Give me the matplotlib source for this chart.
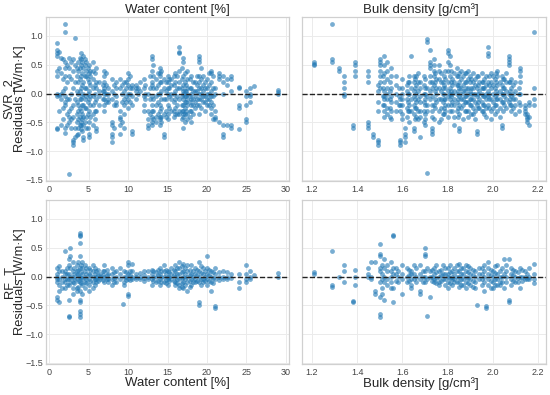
import matplotlib
matplotlib.use("Agg")
import matplotlib.pyplot as plt

plt.rcParams['font.family'] = ['Liberation Sans', 'DejaVu Sans']

# ---------------- data (columns: x value, residuals at that x) ----------------
svr_wc = [
    (1.0, [0.88, 0.75, 0.70, 0.65, 0.40, 0.30, 0.00, -0.05, -0.60, -0.62]),
    (1.2, [0.72, 0.45, -0.02, -0.30]),
    (1.5, [0.62, 0.35, 0.00, -0.10, -0.55]),
    (1.8, [0.60, 0.25, 0.05, -0.25, -0.45]),
    (2.0, [1.20, 1.07, 0.55, 0.45, 0.30, 0.10, -0.05, -0.15, -0.20, -0.60, -0.68]),
    (2.2, [0.50, 0.20, -0.10, -0.35, -0.55]),
    (2.5, [0.62, 0.45, 0.30, -0.10, -0.30, -0.40, -0.50, -1.40]),
    (2.8, [0.55, 0.25, 0.00, -0.25, -0.45, -0.60]),
    (3.0, [0.60, 0.40, 0.10, -0.20, -0.40, -0.80, -0.85, -0.90]),
    (3.3, [0.97, 0.50, 0.20, -0.10, -0.60, -0.75]),
    (3.5, [0.45, 0.30, 0.05, -0.15, -0.35, -0.50, -0.72]),
    (3.7, [0.55, 0.40, 0.20, 0.00, -0.20, -0.30, -0.45, -0.60, -0.70]),
    (3.9, [0.62, 0.45, 0.25, 0.05, -0.10, -0.25, -0.40, -0.55]),
    (4.0, [0.70, 0.60, 0.50, 0.30, 0.10, -0.10, -0.30, -0.50, -0.55, -0.62]),
    (4.1, [0.55, 0.35, 0.15, -0.05, -0.20, -0.35, -0.45, -0.65]),
    (4.3, [0.65, 0.45, 0.20, 0.00, -0.20, -0.40, -0.55, -0.75, -0.80]),
    (4.5, [0.60, 0.50, 0.30, 0.10, -0.10, -0.25, -0.50]),
    (4.7, [0.55, 0.40, 0.30, 0.10, -0.05, -0.25, -0.40, -0.60]),
    (4.9, [0.45, 0.25, 0.00, -0.15, -0.35, -0.60]),
    (5.0, [0.50, 0.35, 0.20, 0.05, -0.10, -0.30, -0.50, -0.70, -0.75]),
    (5.2, [0.40, 0.30, 0.15, -0.05, -0.20, -0.40]),
    (5.5, [0.55, 0.40, 0.25, 0.10, -0.05, -0.20, -0.35, -0.55]),
    (5.8, [0.35, 0.15, 0.00, -0.15, -0.30, -0.45]),
    (6.0, [0.45, 0.20, 0.10, -0.10, -0.30, -0.60, -0.65]),
    (6.3, [0.20, 0.05, -0.05, -0.20]),
    (6.8, [0.15, 0.05, -0.10]),
    (7.0, [0.40, 0.30, 0.20, 0.10, 0.05, 0.00, -0.10, -0.20, -0.30]),
    (7.2, [0.35, 0.15, 0.00, -0.15]),
    (7.5, [0.10, 0.00, -0.10, -0.15]),
    (8.0, [0.25, 0.05, -0.10, -0.50, -0.55, -0.70, -0.75, -0.85]),
    (8.2, [0.15, 0.00, -0.20, -0.60]),
    (8.5, [0.20, 0.10, -0.05, -0.15, -0.20]),
    (9.0, [0.25, 0.10, -0.30, -0.40, -0.45, -0.55, -0.70]),
    (9.2, [0.15, 0.00, -0.15, -0.50]),
    (9.5, [0.20, 0.05, -0.10, -0.20, -0.35, -0.60]),
    (9.8, [0.20, 0.10, -0.05, -0.15]),
    (10.0, [0.35, 0.25, 0.15, 0.00, -0.10, -0.25]),
    (10.2, [0.30, 0.10, 0.00, -0.15]),
    (10.5, [0.15, 0.10, -0.05, -0.20, -0.65, -0.70]),
    (11.0, [0.15, 0.10, 0.05, -0.10]),
    (11.2, [0.10, 0.00]),
    (11.5, [0.20, 0.05]),
    (12.0, [0.25, 0.10, -0.05, -0.20, -0.30]),
    (12.2, [0.15, 0.00, -0.10]),
    (12.5, [0.00, -0.30, -0.45, -0.55, -0.60]),
    (12.8, [0.30, 0.10, -0.10, -0.35]),
    (13.0, [0.65, 0.60, 0.40, 0.20, 0.15, -0.05, -0.20, -0.30, -0.40, -0.50, -0.55]),
    (13.2, [0.50, 0.30, 0.10, -0.10, -0.30, -0.45]),
    (13.5, [0.25, 0.10, -0.05, -0.20, -0.40, -0.50]),
    (13.8, [0.35, 0.15, 0.00, -0.15, -0.35]),
    (14.0, [0.45, 0.35, 0.30, 0.20, 0.00, -0.20, -0.30, -0.40, -0.45, -0.55]),
    (14.2, [0.40, 0.20, 0.05, -0.10, -0.25, -0.40, -0.50]),
    (14.5, [0.25, 0.10, -0.10, -0.35, -0.70, -0.75]),
    (14.8, [0.20, 0.05, -0.10, -0.30, -0.40]),
    (15.0, [0.30, 0.20, 0.10, 0.00, -0.20, -0.35, -0.45]),
    (15.2, [0.25, 0.10, -0.05, -0.25]),
    (15.5, [0.25, 0.15, 0.00, -0.10, -0.30]),
    (15.8, [0.30, 0.15, 0.00, -0.15, -0.30, -0.40]),
    (16.0, [0.35, 0.20, 0.05, -0.10, -0.25, -0.35]),
    (16.2, [0.30, 0.10, -0.05, -0.20, -0.35]),
    (16.5, [0.80, 0.72, 0.70, 0.40, 0.20, 0.10, -0.10, -0.30, -0.35]),
    (16.8, [0.45, 0.25, 0.10, -0.05, -0.20, -0.30, -0.45]),
    (17.0, [0.62, 0.55, 0.30, 0.15, 0.05, 0.00, -0.10, -0.20, -0.30, -0.35, -0.40, -0.60]),
    (17.2, [0.35, 0.20, 0.05, -0.05, -0.15, -0.25, -0.35, -0.50]),
    (17.4, [0.15, 0.05, -0.05, -0.15, -0.30]),
    (17.5, [0.40, 0.25, 0.10, 0.00, -0.10, -0.20, -0.35, -0.45]),
    (17.8, [0.25, 0.10, -0.05, -0.15, -0.30, -0.40]),
    (18.0, [0.30, 0.10, 0.00, -0.10, -0.20, -0.30, -0.50]),
    (18.2, [0.20, 0.05, -0.10, -0.20, -0.35]),
    (18.5, [0.20, 0.05, -0.05, -0.15, -0.25]),
    (18.8, [0.30, 0.15, 0.05, -0.10, -0.20]),
    (19.0, [0.65, 0.60, 0.55, 0.30, 0.20, 0.10, 0.00, -0.10, -0.20, -0.35]),
    (19.2, [0.45, 0.25, 0.10, 0.00, -0.10, -0.25]),
    (19.5, [0.30, 0.15, 0.05, -0.05, -0.15]),
    (19.8, [0.20, 0.10, -0.05, -0.15, -0.30]),
    (20.0, [0.25, 0.10, 0.00, -0.10, -0.20]),
    (20.2, [0.35, 0.15, 0.00, -0.10, -0.20]),
    (20.5, [0.40, 0.35, 0.20, 0.05, -0.05, -0.15, -0.25, -0.35]),
    (20.8, [0.30, 0.10, -0.05, -0.20, -0.45]),
    (21.0, [0.10, 0.00, -0.30, -0.40, -0.45]),
    (21.5, [0.35, 0.30, 0.25, -0.50]),
    (22.0, [0.30, 0.20, 0.00, -0.55, -0.70, -0.75]),
    (22.5, [0.25, 0.15, -0.55]),
    (23.0, [0.30, 0.25, 0.05, -0.55, -0.60]),
    (24.0, [0.10, 0.12, -0.20, -0.25, -0.62]),
    (25.0, [0.05, -0.05, -0.20, -0.45, -0.50]),
    (25.5, [0.10, 0.00, -0.05, -0.15]),
    (26.0, [0.13]),
    (29.0, [0.07, 0.00, 0.02]),
]

svr_bd = [
    (1.21, [0.55, 0.50, 0.52]),
    (1.29, [1.20, 0.60, 0.55]),
    (1.32, [0.45, 0.40]),
    (1.34, [0.30, 0.20, 0.10, 0.00, -0.05]),
    (1.38, [-0.55, -0.60]),
    (1.39, [0.55, 0.50, 0.40, 0.30]),
    (1.45, [0.40, 0.30, 0.20, -0.50, -0.55, -0.60]),
    (1.47, [-0.70, -0.75]),
    (1.49, [0.15, 0.05, -0.15, -0.30, -0.80, -0.85, -0.90]),
    (1.50, [0.60, 0.55, 0.50, 0.40, 0.30, 0.20, 0.10]),
    (1.515, [0.30, 0.10, -0.05, -0.20]),
    (1.52, [0.65, 0.50, 0.35, 0.20, 0.05, -0.05, -0.10, -0.20, -0.30, -0.40]),
    (1.53, [0.55, 0.40, 0.25, 0.10, 0.00, -0.10, -0.25, -0.35]),
    (1.545, [0.20, 0.05, -0.10, -0.25, -0.40]),
    (1.55, [0.45, 0.30, 0.10, -0.05, -0.15, -0.30, -0.45]),
    (1.57, [0.30, 0.15, 0.00, -0.15, -0.30]),
    (1.585, [0.10, -0.05, -0.20]),
    (1.59, [-0.85, -0.80, -0.90, -0.30, -0.20, -0.10]),
    (1.60, [0.25, 0.10, 0.00, -0.10, -0.20, -0.35, -0.45]),
    (1.61, [-0.70, -0.75, -0.85, -0.60]),
    (1.62, [0.15, 0.05, -0.10, -0.25, -0.40]),
    (1.625, [0.20, 0.00, -0.15, -0.30]),
    (1.63, [0.30, 0.20, 0.00, -0.20, -0.30, -0.50]),
    (1.64, [0.65, 0.10, -0.10, -0.30]),
    (1.65, [0.30, 0.20, 0.05, -0.05, -0.20, -0.35, -0.60, -0.65]),
    (1.655, [0.25, 0.10, -0.10, -0.25, -0.45]),
    (1.66, [0.30, 0.15, 0.00, -0.15, -0.25, -0.40]),
    (1.67, [0.35, 0.20, 0.05, -0.10, -0.30, -0.45]),
    (1.68, [0.20, 0.10, -0.05, -0.15, -0.30, -0.40, -0.75]),
    (1.695, [0.30, 0.15, 0.00, -0.15, -0.30, -0.50]),
    (1.70, [0.25, 0.10, 0.00, -0.10, -0.20, -0.35, -0.45, -0.55]),
    (1.71, [0.95, 0.90, 0.10, -0.05, -0.20, -0.30, -1.38]),
    (1.72, [0.75, 0.55, 0.50, 0.45, 0.30, 0.20, 0.05, -0.10]),
    (1.73, [0.20, 0.10, -0.05, -0.20, -0.30, -0.40, -0.60, -0.65, -0.70]),
    (1.74, [0.60, 0.50, 0.40, 0.30, 0.15, -0.20, -0.45]),
    (1.745, [0.35, 0.20, 0.05, -0.10, -0.25]),
    (1.75, [0.25, 0.10, 0.00, -0.15]),
    (1.76, [0.50, 0.40, 0.25, 0.10, -0.10, -0.30, -0.50]),
    (1.77, [0.35, 0.20, 0.05, -0.10, -0.25, -0.45]),
    (1.78, [0.20, 0.10, 0.00, -0.15, -0.35]),
    (1.785, [0.30, 0.15, 0.00, -0.10, -0.25, -0.35]),
    (1.79, [0.40, 0.25, 0.10, -0.10, -0.20, -0.30]),
    (1.80, [0.75, 0.70, 0.55, 0.40, 0.20, 0.05, -0.05, -0.20, -0.40]),
    (1.81, [0.65, 0.50, 0.30, 0.10, 0.00, -0.10, -0.30]),
    (1.815, [0.40, 0.20, 0.05, -0.05, -0.20]),
    (1.82, [0.25, 0.15, 0.00, -0.15, -0.30]),
    (1.83, [0.35, 0.20, 0.05, -0.10, -0.20, -0.40, -0.55]),
    (1.84, [0.45, 0.30, 0.15, 0.00, -0.15, -0.30]),
    (1.845, [0.30, 0.15, 0.05, -0.10, -0.25, -0.40]),
    (1.85, [0.35, 0.20, 0.10, -0.05, -0.20, -0.35, -0.60, -0.65]),
    (1.86, [0.40, 0.25, 0.10, 0.00, -0.10, -0.25]),
    (1.87, [0.30, 0.15, 0.05, -0.10, -0.20, -0.45]),
    (1.875, [0.35, 0.20, 0.05, -0.05, -0.15, -0.30]),
    (1.88, [0.35, 0.20, 0.10, -0.05, -0.15, -0.30]),
    (1.89, [0.40, 0.25, 0.10, 0.00, -0.15, -0.30, -0.40]),
    (1.90, [0.30, 0.20, 0.05, -0.10, -0.20]),
    (1.905, [0.25, 0.10, 0.00, -0.10, -0.20, -0.35]),
    (1.91, [0.35, 0.20, 0.10, 0.00, -0.10, -0.25, -0.35]),
    (1.92, [0.25, 0.15, 0.00, -0.15, -0.30, -0.45]),
    (1.93, [0.30, 0.10, -0.05, -0.20, -0.65, -0.70]),
    (1.935, [0.30, 0.15, 0.00, -0.15, -0.25]),
    (1.94, [0.20, 0.05, -0.10, -0.25]),
    (1.95, [0.35, 0.20, 0.10, 0.00, -0.15, -0.30]),
    (1.955, [0.20, 0.10, -0.05, -0.20, -0.30]),
    (1.96, [0.25, 0.10, -0.05, -0.20, -0.35]),
    (1.97, [0.30, 0.15, 0.00, -0.10, -0.25, -0.40]),
    (1.98, [0.80, 0.70, 0.65, 0.20, 0.05, -0.05, -0.20]),
    (1.985, [0.30, 0.15, 0.00, -0.10, -0.25]),
    (1.99, [0.35, 0.20, 0.10, -0.10, -0.30, -0.45]),
    (2.00, [0.30, 0.15, 0.00, -0.15, -0.25]),
    (2.01, [0.25, 0.10, -0.05, -0.20, -0.35]),
    (2.015, [0.35, 0.20, 0.05, -0.10, -0.20]),
    (2.02, [0.40, 0.30, 0.15, 0.00, -0.10, -0.30]),
    (2.03, [0.20, 0.05, -0.10, -0.25, -0.40]),
    (2.04, [0.30, 0.15, 0.00, -0.15, -0.60, -0.55]),
    (2.045, [0.25, 0.10, 0.00, -0.15, -0.30]),
    (2.05, [0.25, 0.10, -0.05, -0.20]),
    (2.06, [0.35, 0.20, 0.05, -0.10, -0.25]),
    (2.07, [0.65, 0.60, 0.55, 0.50, 0.20, 0.00, -0.15]),
    (2.075, [0.20, 0.05, -0.10, -0.20]),
    (2.08, [0.25, 0.10, -0.05, -0.20, -0.30]),
    (2.09, [0.15, 0.00, -0.10, -0.25]),
    (2.10, [0.20, 0.05, -0.10, -0.20, -0.35]),
    (2.115, [0.10, 0.00, -0.15, -0.30]),
    (2.12, [0.45, 0.40, 0.30, 0.20, 0.00, -0.20]),
    (2.14, [-0.20, -0.25, -0.30, -0.35]),
    (2.15, [-0.35, -0.40, -0.45, -0.50]),
    (2.16, [-0.15, -0.20, -0.40, -0.55]),
    (2.18, [1.07, 0.10, -0.10, -0.20]),
]

rf_wc = [
    (1.0, [0.15, 0.05, 0.00, -0.05, -0.10, -0.35, -0.40]),
    (1.3, [0.18, 0.10, -0.05, -0.15, -0.25, -0.45]),
    (1.6, [0.10, 0.00, -0.10, -0.20]),
    (2.0, [0.45, 0.10, 0.05, -0.05, -0.10, -0.20]),
    (2.2, [0.15, 0.05, -0.05, -0.15]),
    (2.5, [0.30, 0.20, 0.05, -0.05, -0.15, -0.40, -0.70, -0.68]),
    (2.7, [0.50, 0.35, 0.15, 0.00, -0.10]),
    (3.0, [0.25, 0.10, 0.00, -0.10, -0.20, -0.30]),
    (3.2, [0.15, 0.05, -0.05, -0.12]),
    (3.5, [0.20, 0.10, 0.05, -0.05, -0.20, -0.25]),
    (3.7, [0.25, 0.12, 0.02, -0.08, -0.18]),
    (3.9, [0.75, 0.72, 0.70, 0.58, 0.35, 0.15, 0.00, -0.10, -0.25, -0.40, -0.45, -0.60, -0.65, -0.70]),
    (4.0, [0.20, 0.08, -0.02, -0.12]),
    (4.2, [0.25, 0.15, 0.05, -0.05, -0.15, -0.30]),
    (4.5, [0.20, 0.10, 0.00, -0.10, -0.20]),
    (4.7, [0.15, 0.05, -0.05, -0.12]),
    (5.0, [0.15, 0.05, -0.05, -0.15, -0.25]),
    (5.2, [0.12, 0.02, -0.08]),
    (5.5, [0.20, 0.10, 0.00, -0.10, -0.20]),
    (5.8, [0.15, 0.05, -0.05, -0.15]),
    (6.0, [0.10, 0.00, -0.05, -0.10]),
    (6.2, [0.12, 0.03, -0.08]),
    (6.5, [0.05, 0.00, -0.05]),
    (6.8, [0.10, 0.02, -0.06]),
    (7.0, [0.20, 0.10, 0.00, -0.10]),
    (7.3, [0.12, 0.02, -0.05]),
    (7.5, [0.05, -0.05, -0.10]),
    (8.0, [0.15, 0.05, -0.05, -0.15]),
    (8.2, [0.08, -0.02, -0.10]),
    (8.5, [0.10, 0.00, -0.10]),
    (9.0, [0.15, 0.05, -0.05]),
    (9.4, [-0.48]),
    (9.5, [0.10, 0.00, -0.10, -0.15]),
    (9.7, [0.08, 0.00, -0.06]),
    (10.0, [0.25, 0.20, 0.05, -0.05, -0.30, -0.33]),
    (10.2, [0.10, 0.02, -0.06]),
    (10.5, [0.22, 0.10, 0.00, -0.05]),
    (11.0, [0.05, 0.00, -0.05]),
    (11.5, [0.06, 0.00, -0.04]),
    (12.0, [0.10, 0.02, -0.02, -0.08]),
    (12.5, [0.10, 0.00, -0.05]),
    (13.0, [0.12, 0.05, -0.05, -0.15]),
    (13.2, [0.10, 0.00, -0.08]),
    (13.5, [0.08, 0.00, -0.10]),
    (13.8, [0.12, 0.03, -0.07]),
    (14.0, [0.15, 0.05, -0.05, -0.15]),
    (14.2, [0.10, 0.00, -0.10]),
    (14.5, [0.20, 0.10, 0.00, -0.10]),
    (14.8, [0.12, 0.04, -0.06, -0.12]),
    (15.0, [0.10, 0.00, -0.05, -0.15]),
    (15.2, [0.08, 0.00, -0.08]),
    (15.5, [0.15, 0.05, -0.05]),
    (15.8, [0.12, 0.02, -0.08]),
    (16.0, [0.20, 0.10, 0.00, -0.10, -0.15]),
    (16.2, [0.15, 0.05, -0.05, -0.12]),
    (16.5, [0.25, 0.15, 0.05, -0.05, -0.15, -0.20]),
    (16.8, [0.18, 0.08, -0.02, -0.12, -0.18]),
    (17.0, [0.22, 0.10, 0.00, -0.10, -0.20]),
    (17.2, [0.15, 0.05, -0.05, -0.15]),
    (17.5, [0.20, 0.10, 0.00, -0.10, -0.25]),
    (17.8, [0.12, 0.02, -0.08, -0.18]),
    (18.0, [0.20, 0.05, -0.05, -0.15]),
    (18.2, [0.10, 0.00, -0.10]),
    (18.5, [0.15, 0.05, -0.05, -0.10]),
    (18.8, [0.12, 0.02, -0.08]),
    (19.0, [0.25, 0.10, 0.00, -0.10, -0.45, -0.50]),
    (19.2, [0.18, 0.06, -0.04, -0.14]),
    (19.5, [0.15, 0.05, -0.05, -0.10]),
    (19.8, [0.10, 0.00, -0.08]),
    (20.0, [0.35, 0.15, 0.05, -0.05, -0.15]),
    (20.2, [0.12, 0.02, -0.08]),
    (20.5, [0.10, 0.00, -0.10, -0.25]),
    (20.8, [0.08, -0.02, -0.12]),
    (21.0, [0.15, 0.05, -0.05, -0.52, -0.55]),
    (21.5, [0.08, 0.00, -0.06]),
    (22.0, [0.10, 0.00, -0.05]),
    (22.5, [0.08, 0.00, -0.05]),
    (23.0, [0.05, -0.02]),
    (24.0, [0.05, -0.10, -0.20]),
    (25.0, [0.20, 0.05, -0.05, -0.10]),
    (25.5, [0.10, 0.00, -0.05]),
    (26.0, [0.02]),
    (29.0, [0.07, 0.00]),
]

rf_bd = [
    (1.21, [0.08, 0.05]),
    (1.29, [0.45, -0.15, -0.18]),
    (1.32, [0.00]),
    (1.34, [0.20, 0.10, -0.10]),
    (1.38, [-0.42, -0.45]),
    (1.39, [0.12, 0.00, -0.15]),
    (1.45, [0.15, 0.05, 0.00]),
    (1.46, [0.25, 0.00, -0.05]),
    (1.48, [0.25, -0.25, -0.30]),
    (1.50, [0.57, 0.40, 0.35, 0.15, 0.10, -0.10, -0.35, -0.65, -0.70]),
    (1.51, [0.20, 0.05, -0.05, -0.20, -0.30]),
    (1.52, [0.30, 0.15, 0.00, -0.10, -0.40]),
    (1.53, [0.20, 0.10, -0.05, -0.15]),
    (1.55, [0.25, 0.10, 0.00, -0.10, -0.20]),
    (1.56, [0.72, 0.70, 0.15, 0.05, -0.20, -0.45]),
    (1.57, [0.15, 0.05, -0.08]),
    (1.58, [0.10, 0.00, -0.10]),
    (1.60, [0.20, 0.05, -0.05, -0.30]),
    (1.62, [0.15, 0.00, -0.10]),
    (1.63, [0.12, 0.02, -0.08]),
    (1.64, [0.10, 0.05, -0.05, -0.15, -0.20]),
    (1.65, [0.20, 0.05, -0.05]),
    (1.66, [0.15, 0.00, -0.10]),
    (1.68, [0.20, 0.05, -0.05, -0.25, -0.30]),
    (1.69, [0.10, 0.00, -0.10]),
    (1.70, [0.50, 0.40, 0.35, 0.10, 0.00, -0.10]),
    (1.71, [-0.68, 0.15, -0.05]),
    (1.72, [0.10, 0.00, -0.35]),
    (1.73, [0.12, 0.00, -0.08]),
    (1.74, [0.15, 0.05, -0.05, -0.10]),
    (1.75, [0.20, 0.08, -0.02, -0.12]),
    (1.76, [0.10, 0.00, -0.10, -0.15]),
    (1.77, [0.12, 0.02, -0.08]),
    (1.78, [0.20, 0.05, -0.05]),
    (1.79, [0.15, 0.05, -0.05, -0.15]),
    (1.80, [0.15, 0.05, 0.00, -0.10, -0.20]),
    (1.81, [0.20, 0.08, -0.02, -0.12]),
    (1.82, [0.10, 0.00, -0.05, -0.15]),
    (1.83, [0.15, 0.05, -0.05, -0.10]),
    (1.84, [0.20, 0.10, 0.00, -0.10]),
    (1.85, [0.22, 0.10, 0.00, -0.10, -0.18]),
    (1.86, [0.15, 0.05, -0.05, -0.15]),
    (1.87, [0.15, 0.05, -0.05, -0.15]),
    (1.88, [0.20, 0.10, 0.00, -0.10, -0.20]),
    (1.89, [0.18, 0.08, -0.02, -0.12]),
    (1.90, [0.15, 0.05, -0.05, -0.15]),
    (1.91, [0.12, 0.02, -0.08, -0.18]),
    (1.92, [0.10, 0.00, -0.10, -0.20]),
    (1.93, [-0.50]),
    (1.94, [0.15, 0.05, -0.05]),
    (1.95, [0.15, 0.05, -0.05, -0.15]),
    (1.96, [0.20, 0.10, 0.00, -0.10, -0.25]),
    (1.97, [-0.52, -0.55]),
    (1.98, [0.25, 0.15, 0.05, -0.05, -0.15]),
    (1.99, [0.12, 0.02, -0.08, -0.20]),
    (2.00, [0.10, 0.00, -0.10, -0.20]),
    (2.01, [0.18, 0.06, -0.04, -0.14]),
    (2.02, [0.20, 0.05, -0.05, -0.15]),
    (2.03, [0.10, 0.00, -0.10, -0.15]),
    (2.04, [0.15, 0.00, -0.10]),
    (2.05, [0.30, 0.05, -0.20]),
    (2.06, [0.20, 0.10, 0.00, -0.10]),
    (2.07, [0.30, -0.40, -0.45]),
    (2.08, [0.15, 0.05, -0.05, -0.15]),
    (2.09, [0.12, 0.02, -0.08]),
    (2.10, [0.10, 0.00, -0.10]),
    (2.11, [0.08, -0.02, -0.10]),
    (2.12, [0.15, 0.00, -0.20]),
    (2.13, [0.12, 0.00, -0.08]),
    (2.14, [0.10, 0.00, -0.05]),
    (2.15, [0.05, -0.05]),
    (2.16, [0.15, 0.00, -0.05]),
    (2.18, [0.22, 0.05, -0.05, -0.12]),
]

row_names = ["SVR_2", "RF_T"]
col_titles = ["Water content [%]", "Bulk density [g/cm\u00b3]"]
wc_ticks = [0, 5, 10, 15, 20, 25, 30]
bd_ticks = [1.2, 1.4, 1.6, 1.8, 2.0, 2.2]
y_ticks = [-1.5, -1.0, -0.5, 0.0, 0.5, 1.0]


def flatten(cols):
    xs, ys = [], []
    for x, vals in cols:
        for v in vals:
            xs.append(x)
            ys.append(v)
    return xs, ys


# ---------------- figure ----------------
fig = plt.figure(figsize=(5.5, 3.95), dpi=100)
W, H = 550.0, 395.0
lefts = [46 / W, 302 / W]
widths = [243 / W, 244 / W]
bottoms = [1 - 181 / H, 1 - 364 / H]
height = 164 / H
title_x = [0.54, 0.488]

panels = [[svr_wc, svr_bd], [rf_wc, rf_bd]]
xlims = [(-0.4, 30.4), (1.156, 2.235)]
xticks = [wc_ticks, bd_ticks]
xfmt = ["{:.0f}", "{:.1f}"]

text_col = "#262626"
for r in range(2):
    for c in range(2):
        ax = fig.add_axes([lefts[c], bottoms[r], widths[c], height])
        xs, ys = flatten(panels[r][c])
        ax.scatter(xs, ys, s=12, color="#1f77b4", alpha=0.6, linewidths=0, zorder=3)
        ax.axhline(0, color="#222222", linestyle="--", linewidth=1.0, zorder=4)
        ax.set_xlim(*xlims[c])
        ax.set_ylim(-1.52, 1.33)
        ax.set_xticks(xticks[c])
        ax.set_xticklabels([xfmt[c].format(t) for t in xticks[c]])
        ax.set_yticks(y_ticks)
        if c == 0:
            ax.set_yticklabels(["{:.1f}".format(t).replace("-", "\u2212") for t in y_ticks])
            ax.set_ylabel(row_names[r] + "\nResiduals [W/m\u00b7K]", fontsize=9.3,
                          color=text_col, linespacing=0.92)
            ax.yaxis.set_label_coords(-0.082, 0.5)
        else:
            ax.set_yticklabels([])
        ax.grid(True, color="#ebebeb", linewidth=0.7, zorder=0)
        ax.set_axisbelow(True)
        for sp in ax.spines.values():
            sp.set_color("#d0d0d0")
            sp.set_linewidth(0.9)
        ax.tick_params(length=0, labelsize=6.5, labelcolor="#444444", pad=3)
        ax.tick_params(axis="y", pad=2)
        if r == 0:
            ax.set_title(col_titles[c], fontsize=9.5, color=text_col, pad=3, x=title_x[c])
        else:
            ax.set_xlabel(col_titles[c], fontsize=9.5, color=text_col)
            ax.xaxis.set_label_coords(title_x[c], -0.078)
            ax.xaxis.label.set_va("top")

fig.savefig("out.png", dpi=100, facecolor="white")
